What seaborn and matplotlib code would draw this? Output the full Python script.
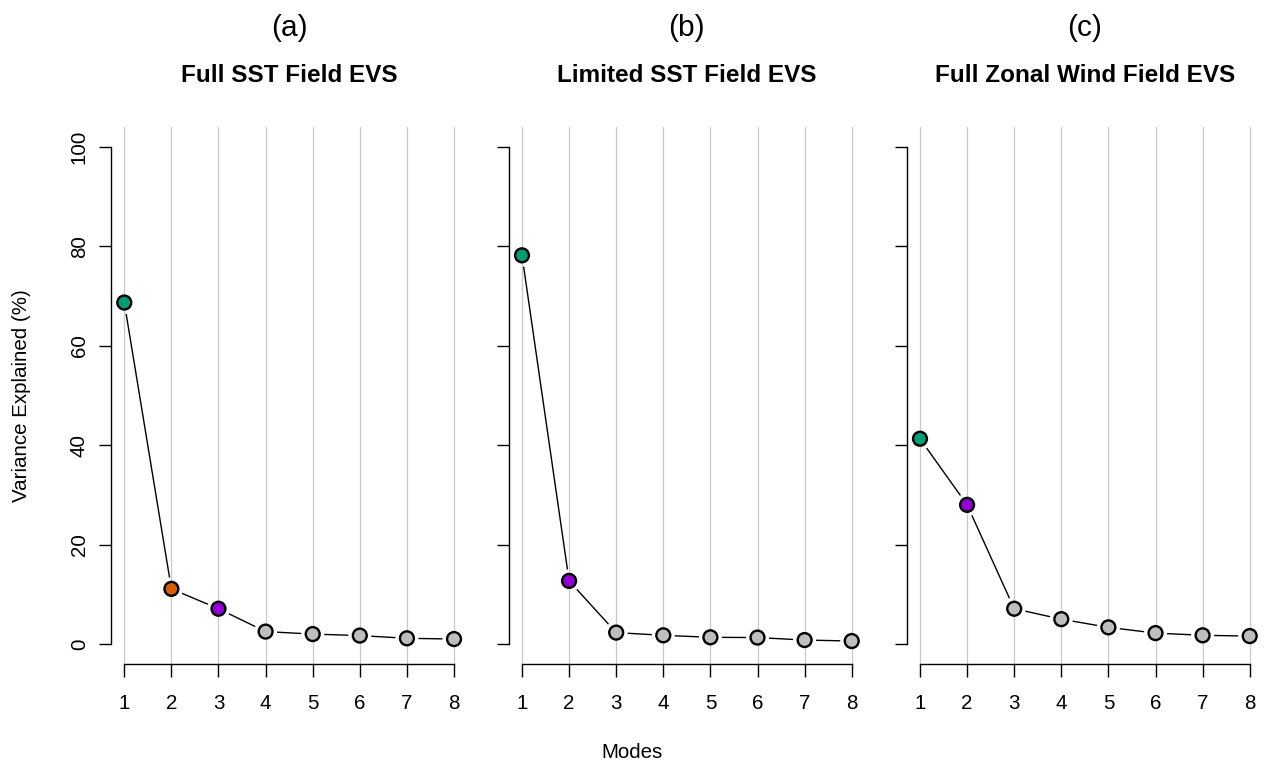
import numpy as np
import matplotlib
matplotlib.use("Agg")
import matplotlib.pyplot as plt
import seaborn as sns

# Variance explained (%) by the first eight EOF modes of each field
modes = [1, 2, 3, 4, 5, 6, 7, 8]
full_sst = [68.7, 11.1, 7.1, 2.5, 2.0, 1.7, 1.15, 1.0]
limited_sst = [78.2, 12.7, 2.3, 1.75, 1.35, 1.3, 0.8, 0.6]
zonal_wind = [41.3, 28.0, 7.1, 5.0, 3.35, 2.2, 1.75, 1.6]

panel_tags = ["(a)", "(b)", "(c)"]
panel_titles = ["Full SST Field EVS", "Limited SST Field EVS", "Full Zonal Wind Field EVS"]
y_ticks = [0, 20, 40, 60, 80, 100]

GREEN, ORANGE, PURPLE, GREY = "#009E73", "#D55E00", "#9400D3", "#BEBEBE"
point_colors = [
    [GREEN, ORANGE, PURPLE] + [GREY] * 5,
    [GREEN, PURPLE] + [GREY] * 6,
    [GREEN, PURPLE] + [GREY] * 6,
]

sns.set_style("ticks")
plt.rcParams["font.family"] = ["Liberation Sans", "DejaVu Sans"]
plt.rcParams["text.color"] = "black"
plt.rcParams["axes.labelcolor"] = "black"

fig = plt.figure(figsize=(12.64, 7.65), dpi=100)

W, H = 1264, 765
panel_left_px = [111.1, 508.8, 906.8]
panel_w_px = 356.1
top_px, bottom_px = 127.1, 663.9
LABEL_SIZE = 14.8

series = [full_sst, limited_sst, zonal_wind]

for k, vals in enumerate(series):
    ax = fig.add_axes([panel_left_px[k] / W, (H - bottom_px) / H,
                       panel_w_px / W, (bottom_px - top_px) / H])
    # R-like 4% padding around the data range
    ax.set_xlim(1 - 0.28, 8 + 0.28)
    ax.set_ylim(-4, 104)

    for m in modes:
        ax.axvline(m, color="#C8C8C8", lw=0.9, zorder=0)

    # connecting lines with small gaps around the points
    gap = 11.5
    pts = ax.transData.transform(np.column_stack([modes, vals]))
    inv = ax.transData.inverted()
    for i in range(len(modes) - 1):
        a, b = pts[i], pts[i + 1]
        d = b - a
        L = np.hypot(*d)
        if L > 2 * gap:
            u = d / L
            seg = inv.transform(np.vstack([a + u * gap, b - u * gap]))
            ax.plot(seg[:, 0], seg[:, 1], color="black", lw=1.0, zorder=2,
                    solid_capstyle="butt")

    sns.scatterplot(x=modes, y=vals, hue=modes, palette=point_colors[k],
                    legend=False, s=100, edgecolor="black", linewidth=1.7,
                    zorder=3, ax=ax)

    ax.set_xticks(modes)
    ax.set_xticklabels([str(m) for m in modes])
    ax.set_yticks(y_ticks)
    if k == 0:
        ax.set_yticklabels([str(t) for t in y_ticks], rotation=90, va="center")
    else:
        ax.set_yticklabels([])
    ax.tick_params(axis="both", length=9, width=1.0, labelsize=LABEL_SIZE,
                   color="black", labelcolor="black")
    ax.tick_params(axis="x", pad=12.5)
    ax.tick_params(axis="y", pad=7)

    for side in ["top", "right"]:
        ax.spines[side].set_visible(False)
    ax.spines["left"].set_bounds(0, 100)
    ax.spines["bottom"].set_bounds(1, 8)
    for side in ["left", "bottom"]:
        ax.spines[side].set_linewidth(1.0)
        ax.spines[side].set_color("black")

    ax.set_xlabel("")
    ax.set_ylabel("")

    cx = (panel_left_px[k] + panel_w_px / 2) / W
    fig.text(cx, 1 - 28 / H, panel_tags[k], ha="center", va="center", fontsize=21.5)
    fig.text(cx, 1 - 75 / H, panel_titles[k], ha="center", va="center",
             fontsize=17.5, fontweight="bold")

fig.text(22 / W, 1 - 395.5 / H, "Variance Explained (%)", rotation=90,
         ha="center", va="center", fontsize=LABEL_SIZE)
fig.text(0.5, 1 - 752 / H, "Modes", ha="center", va="center", fontsize=LABEL_SIZE)

fig.savefig("out.png", dpi=100, facecolor="white")
